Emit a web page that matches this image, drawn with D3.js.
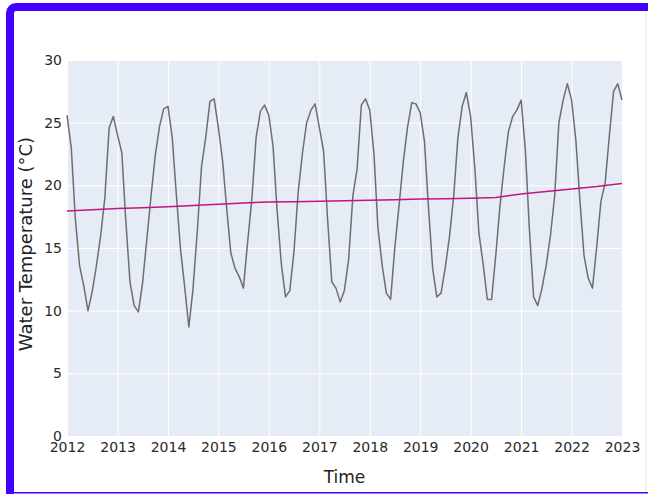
<!DOCTYPE html>
<html>
<head>
<meta charset="utf-8">
<script src="https://cdn.jsdelivr.net/npm/d3@7"></script>
<style>
  html, body { margin: 0; padding: 0; background: #ffffff; }
  svg { display: block; }
  text { font-family: "DejaVu Sans", Verdana, sans-serif; }
</style>
</head>
<body>
<script>
// Monthly water temperature (°C), January 2012 through January 2023
const firstMonth = "2012-01-01";
const temps = [
  25.6, 23.0, 17.4, 13.6, 12.0, 10.0, 11.5, 13.6, 16.0, 19.0, 24.6, 25.5, // 2012
  24.0, 22.6, 17.3, 12.3, 10.4,  9.9, 12.2, 15.7, 19.2, 22.4, 24.7, 26.1, // 2013
  26.3, 23.8, 19.5, 15.0, 12.0,  8.7, 11.7, 16.3, 21.5, 23.8, 26.7, 26.9, // 2014
  24.6, 21.9, 18.3, 14.6, 13.4, 12.7, 11.8, 15.5, 19.0, 23.8, 25.9, 26.4, // 2015
  25.6, 23.1, 18.0, 13.7, 11.1, 11.6, 14.7, 19.5, 22.6, 25.0, 26.0, 26.5, // 2016
  24.6, 22.7, 17.4, 12.3, 11.8, 10.7, 11.6, 14.1, 19.2, 21.3, 26.4, 26.9, // 2017
  26.0, 22.4, 16.6, 13.6, 11.4, 10.9, 15.0, 18.4, 21.9, 24.6, 26.6, 26.5, // 2018
  25.8, 23.5, 18.4, 13.4, 11.1, 11.4, 13.4, 15.9, 19.2, 23.8, 26.3, 27.4, // 2019
  25.5, 21.3, 16.2, 13.7, 10.9, 10.9, 14.4, 18.4, 21.6, 24.3, 25.5, 26.0, // 2020
  26.8, 22.7, 16.6, 11.1, 10.4, 11.8, 13.6, 16.0, 19.2, 25.0, 26.8, 28.1, // 2021
  26.8, 23.6, 19.0, 14.4, 12.6, 11.8, 15.0, 18.7, 20.2, 23.9, 27.5, 28.1, // 2022
  26.8                                                                    // 2023
];

// Smoothed trend, read at January and July of each year
const trendDates = [
  "2012-01-01", "2012-07-01", "2013-01-01", "2013-07-01", "2014-01-01", "2014-07-01",
  "2015-01-01", "2015-07-01", "2016-01-01", "2016-07-01", "2017-01-01", "2017-07-01",
  "2018-01-01", "2018-07-01", "2019-01-01", "2019-07-01", "2020-01-01", "2020-07-01",
  "2021-01-01", "2021-07-01", "2022-01-01", "2022-07-01", "2023-01-01"
];
const trendValues = [
  17.95, 18.05, 18.15, 18.22, 18.30, 18.40,
  18.50, 18.60, 18.68, 18.70, 18.73, 18.77,
  18.80, 18.85, 18.90, 18.93, 18.97, 19.03,
  19.30, 19.50, 19.70, 19.90, 20.15
];

const yearTicks = [2012, 2013, 2014, 2015, 2016, 2017, 2018, 2019, 2020, 2021, 2022, 2023];
const tempTicks = [0, 5, 10, 15, 20, 25, 30];

const xTitle = "Time";
const yTitle = "Water Temperature (°C)";

const W = 648, H = 494;
const plot = { left: 67, right: 622, top: 60, bottom: 436 };

const parse = d3.utcParse("%Y-%m-%d");
const start = parse(firstMonth);
const series = temps.map((v, i) => ({ date: d3.utcMonth.offset(start, i), value: v }));
const trend = trendDates.map((d, i) => ({ date: parse(d), value: trendValues[i] }));
const yearDates = yearTicks.map(yr => new Date(Date.UTC(yr, 0, 1)));

const x = d3.scaleUtc()
  .domain([yearDates[0], yearDates[yearDates.length - 1]])
  .range([plot.left, plot.right]);
const y = d3.scaleLinear()
  .domain([tempTicks[0], tempTicks[tempTicks.length - 1]])
  .range([plot.bottom, plot.top]);

const svg = d3.select("body").append("svg")
  .attr("width", W).attr("height", H);

// page background and frame
svg.append("rect").attr("width", W).attr("height", H).attr("fill", "#ffffff");
svg.append("rect")
  .attr("x", 10).attr("y", 7)
  .attr("width", 760).attr("height", 700)
  .attr("rx", 6).attr("ry", 6)
  .attr("fill", "none").attr("stroke", "#4400ff").attr("stroke-width", 8);
svg.append("rect")
  .attr("x", 6).attr("y", 492).attr("width", W - 6).attr("height", 1.5)
  .attr("fill", "#4400ff");
svg.append("rect")
  .attr("x", 645.5).attr("y", 11).attr("width", 1).attr("height", 481)
  .attr("fill", "#e4e4e4");

// plot area
svg.append("rect")
  .attr("x", plot.left).attr("y", plot.top)
  .attr("width", plot.right - plot.left).attr("height", plot.bottom - plot.top)
  .attr("fill", "#e5ecf6");

// gridlines
const xGrid = svg.append("g")
  .attr("transform", `translate(0,${plot.bottom})`)
  .call(d3.axisBottom(x)
    .tickValues(yearDates)
    .tickSize(-(plot.bottom - plot.top))
    .tickFormat(""));
xGrid.select(".domain").remove();
xGrid.selectAll("line").attr("stroke", "#ffffff").attr("stroke-width", 1);

const yGrid = svg.append("g")
  .attr("transform", `translate(${plot.left},0)`)
  .call(d3.axisLeft(y)
    .tickValues(tempTicks)
    .tickSize(-(plot.right - plot.left))
    .tickFormat(""));
yGrid.select(".domain").remove();
yGrid.selectAll("line").attr("stroke", "#ffffff").attr("stroke-width", 1);

// data lines
const line = d3.line().x(d => x(d.date)).y(d => y(d.value));
svg.append("path").datum(series)
  .attr("d", line)
  .attr("fill", "none").attr("stroke", "#6e6e6e").attr("stroke-width", 1.5)
  .attr("stroke-linejoin", "round");
svg.append("path").datum(trend)
  .attr("d", line)
  .attr("fill", "none").attr("stroke", "#c2157e").attr("stroke-width", 1.5);

// tick labels
const xAxis = svg.append("g")
  .attr("transform", `translate(0,${plot.bottom})`)
  .call(d3.axisBottom(x)
    .tickValues(yearDates)
    .tickSize(0).tickPadding(6)
    .tickFormat(d3.utcFormat("%Y")));
xAxis.select(".domain").remove();
xAxis.selectAll("text").attr("font-size", 14).attr("fill", "#2a2a2a")
  .attr("font-family", "'DejaVu Sans', Verdana, sans-serif");

const yAxis = svg.append("g")
  .attr("transform", `translate(${plot.left},0)`)
  .call(d3.axisLeft(y)
    .tickValues(tempTicks)
    .tickSize(0).tickPadding(5)
    .tickFormat(d3.format("d")));
yAxis.select(".domain").remove();
yAxis.selectAll("text").attr("font-size", 14).attr("fill", "#2a2a2a")
  .attr("font-family", "'DejaVu Sans', Verdana, sans-serif");

// axis titles
svg.append("text")
  .attr("x", (plot.left + plot.right) / 2).attr("y", 483)
  .attr("text-anchor", "middle").attr("font-size", 17).attr("fill", "#222")
  .text(xTitle);
svg.append("text")
  .attr("transform", `translate(32,244) rotate(-90)`)
  .attr("text-anchor", "middle").attr("font-size", 18).attr("fill", "#222")
  .text(yTitle);
</script>
</body>
</html>
